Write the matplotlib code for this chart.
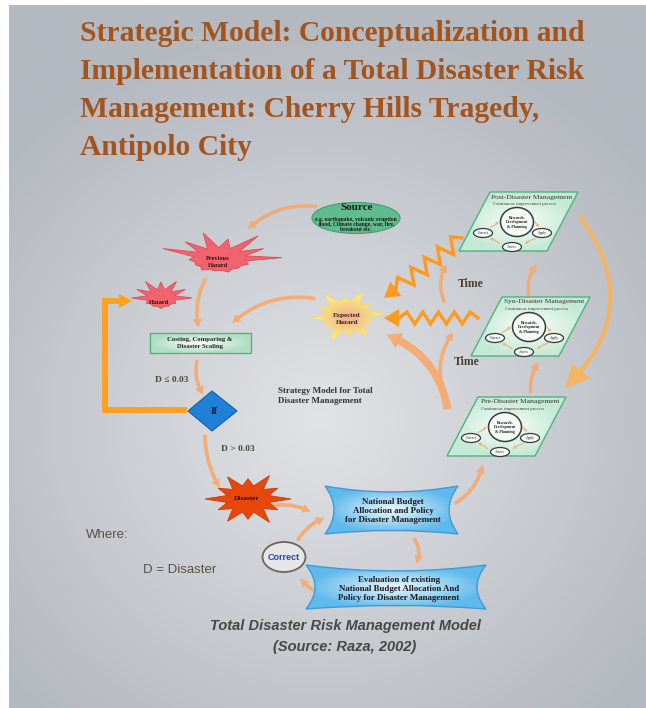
import numpy as np
import matplotlib.pyplot as plt
from matplotlib.patches import Polygon, Ellipse, FancyArrowPatch, PathPatch
from matplotlib.path import Path

# ---- text content of the diagram ----
title_lines = ["Strategic Model: Conceptualization and",
               "Implementation of a Total Disaster Risk",
               "Management: Cherry Hills Tragedy,",
               "Antipolo City"]
source_title = "Source"
source_note = "e.g. earthquake, volcanic eruption\nflood, Climate change, war, fire,\nbreakout etc."
hazard_labels = ["Previous\nHazard", "Hazard", "Expected\nHazard", "Disaster"]
costing_label = "Costing, Comparing &\nDisaster Scaling"
decision_label = "If"
branch_labels = ["D \u2264 0.03", "D > 0.03"]
strategy_label = "Strategy Model for Total\nDisaster Management"
time_label = "Time"
phase_titles = ["Post-Disaster Management", "Syn-Disaster Management", "Pre-Disaster Management"]
phase_subtitle = "Continuous improvement process"
cycle_steps = ["Research,\nDevelopment\n& Planning", "Correct", "Apply", "Assess"]
budget_label = "National Budget\nAllocation and Policy\nfor Disaster Management"
evaluation_label = "Evaluation of existing\nNational Budget Allocation And\nPolicy for Disaster Management"
correct_label = "Correct"
legend_lines = ["Where:", "D = Disaster"]
caption_lines = ["Total Disaster Risk Management Model", "(Source: Raza, 2002)"]

SERIF = "Liberation Serif"
SANS = "Liberation Sans"
ARROW = "#F5AA70"

fig = plt.figure(figsize=(6.46, 7.08), dpi=100)
ax = fig.add_axes([0, 0, 1, 1])
ax.set_xlim(0, 646)
ax.set_ylim(708, 0)
ax.axis("off")

# background panel with soft radial light
gx, gy = np.meshgrid(np.linspace(9, 646, 200), np.linspace(5, 708, 220))
r = np.clip(np.sqrt(((gx - 320) / 420) ** 2 + ((gy - 420) / 400) ** 2), 0, 1)[..., None]
bg = np.array([225, 227, 230]) / 255 * (1 - r) + np.array([180, 184, 191]) / 255 * r
ax.imshow(bg, extent=[9, 646, 708, 5], aspect="auto", zorder=0, interpolation="bilinear")


def grad_patch(verts, c_in, c_out, edge, lw, z, codes=None):
    path = Path(verts, codes)
    xs, ys = np.array(verts)[:, 0], np.array(verts)[:, 1]
    x0, x1, y0, y1 = xs.min(), xs.max(), ys.min(), ys.max()
    mx, my = np.meshgrid(np.linspace(-1, 1, 60), np.linspace(-1, 1, 60))
    t = np.clip(np.sqrt(mx ** 2 + my ** 2), 0, 1)[..., None]
    img = np.array(c_in) / 255 * (1 - t) + np.array(c_out) / 255 * t
    im = ax.imshow(img, extent=[x0, x1, y1, y0], aspect="auto", zorder=z, interpolation="bilinear")
    p = PathPatch(path, facecolor="none", edgecolor=edge, lw=lw, zorder=z + 0.1)
    ax.add_patch(p)
    im.set_clip_path(p)


def star(cx, cy, rx, ry, spikes, inner, rot, fc, ec, z=3):
    n = len(spikes)
    pts = []
    for i, s in enumerate(spikes):
        a = rot + 2 * np.pi * i / n
        pts.append((cx + rx * s * np.cos(a), cy - ry * s * np.sin(a)))
        a2 = a + np.pi / n
        pts.append((cx + rx * inner * np.cos(a2), cy - ry * inner * np.sin(a2)))
    ax.add_patch(Polygon(pts, closed=True, fc=fc, ec=ec, lw=0.6, zorder=z))


def arrow(p0, p1, rad, tail=2.6, hw=6.5, hl=6, color=ARROW, z=2, alpha=0.95):
    a = FancyArrowPatch(p0, p1, connectionstyle="arc3,rad=%s" % rad,
                        arrowstyle="simple,head_width=%s,head_length=%s,tail_width=%s" % (hw, hl, tail),
                        color=color, lw=0, alpha=alpha, zorder=z)
    ax.add_patch(a)


def zigzag(p0, p1, n, amp, head, color="#FF9A1F", lw=2.4):
    p0, p1 = np.array(p0, float), np.array(p1, float)
    d = p1 - p0
    u = d / np.hypot(*d)
    nrm = np.array([-u[1], u[0]])
    end = p1 - u * head
    pts = []
    for k, t in enumerate(np.linspace(0, 1, 2 * n + 1)):
        off = 0 if k in (0, 2 * n) else (1 if k % 2 else -1)
        pts.append(p0 + (end - p0) * t + nrm * amp * off)
    pts = np.array(pts)
    ax.plot(pts[:, 0], pts[:, 1], color=color, lw=lw, solid_joinstyle="miter", zorder=4)
    ax.add_patch(Polygon([p1, end + nrm * head * 0.6, end - nrm * head * 0.6],
                         closed=True, fc=color, ec="none", zorder=4))


# ---- title ----
for i, line in enumerate(title_lines):
    ax.text(80, 41 + 38 * i, line, fontsize=21.3, family=SERIF, weight="bold",
            color="#A3541C", ha="left", va="baseline")

# ---- source ----
ax.add_patch(Ellipse((356, 218), 88, 31, fc="#5FBC8C", ec="#3FA070", lw=0.8, zorder=3))
ax.text(357, 208, source_title, fontsize=8, family=SERIF, weight="bold", color="#1a1a1a",
        ha="center", va="center", zorder=4)
ax.text(356, 224.5, source_note, fontsize=4.1, family=SERIF, weight="bold", color="#1a1a1a",
        ha="center", va="center", linespacing=1.1, zorder=4)

# ---- hazards ----
prev_sp = [1.0, 0.8, 1.05, 0.75, 1.0, 0.85, 1.0, 0.5, 0.45, 0.5, 0.45, 0.5, 0.45, 0.5]
star(220, 259, 62, 27, prev_sp, 0.42, 0.05, "#F0636F", "#E04B58")
ax.text(218, 262, hazard_labels[0], fontsize=4.6, family=SERIF, weight="bold", color="#3a1010",
        ha="center", va="center", linespacing=1.3, zorder=4)
haz_sp = [1.0, 0.9, 1.0, 0.85, 1.0, 0.9, 0.95, 0.55, 0.5, 0.55, 0.5, 0.55]
star(161, 298, 31, 19, haz_sp, 0.45, 0.0, "#F0636F", "#E04B58")
ax.text(159, 302, hazard_labels[1], fontsize=4.6, family=SERIF, weight="bold", color="#3a1010",
        ha="center", va="center", zorder=4)
exp_sp = [1.0, 0.75, 0.95, 0.7, 1.0, 0.8, 0.95, 0.7, 1.0, 0.75, 0.95, 0.7]
n = len(exp_sp)
pts = []
for i, s in enumerate(exp_sp):
    a = 0.1 + 2 * np.pi * i / n
    pts.append((347 + 38 * s * np.cos(a), 316 - 27 * s * np.sin(a)))
    a2 = a + np.pi / n
    pts.append((347 + 38 * 0.55 * np.cos(a2), 316 - 27 * 0.55 * np.sin(a2)))
pts.append(pts[0])
grad_patch(pts, (236, 175, 150), (255, 240, 120), "#F2DC70", 0.6, 3)
ax.text(347, 319, hazard_labels[2], fontsize=5, family=SERIF, weight="bold", color="#3a2020",
        ha="center", va="center", linespacing=1.3, zorder=4)
dis_sp = [1.0, 0.8, 1.0, 0.75, 0.95, 0.8, 1.0, 0.8, 0.95, 0.75, 1.0, 0.8]
star(248, 499, 43, 27, dis_sp, 0.5, 0.0, "#E8470C", "#D03A05")
ax.text(247, 499, hazard_labels[3], fontsize=5.3, family=SERIF, weight="bold", color="#2a0a00",
        ha="center", va="center", zorder=4)

# ---- costing box ----
grad_patch([(150, 333), (251, 333), (251, 353), (150, 353), (150, 333)],
           (250, 252, 250), (175, 222, 195), "#49B07A", 0.9, 3)
ax.text(200, 343, costing_label, fontsize=4.8, family=SERIF, weight="bold", color="#222",
        ha="center", va="center", linespacing=1.35, zorder=4)

# ---- decision ----
ax.add_patch(Polygon([(188, 411), (212, 391), (237, 411), (212, 431)], closed=True,
                     fc="#1F80D8", ec="#155FA8", lw=0.8, zorder=3))
ax.text(214, 411, decision_label, fontsize=7, family=SERIF, weight="bold", color="#0a1a30",
        ha="center", va="center", zorder=4)
ax.text(172, 380, branch_labels[0], fontsize=6.8, family=SERIF, weight="bold", color="#4d463a",
        ha="center", va="center", zorder=4)
ax.text(238, 449, branch_labels[1], fontsize=6.8, family=SERIF, weight="bold", color="#4d463a",
        ha="center", va="center", zorder=4)

# orange feedback loop
ax.plot([187, 105, 105, 120], [410, 410, 301, 301], color="#FFA01E", lw=4.2,
        solid_joinstyle="miter", solid_capstyle="butt", zorder=2)
ax.add_patch(Polygon([(132, 301), (119, 294), (119, 308)], closed=True, fc="#FFA01E", ec="none", zorder=2))

ax.text(278, 396, strategy_label, fontsize=6.5, family=SERIF, weight="bold", color="#333",
        ha="left", va="center", linespacing=1.35, zorder=4)

# ---- phase panels ----
def phase_panel(x, y, title):
    w, shear, h = 88, 31, 59
    verts = [(x, y), (x + w, y), (x + w - shear, y + h), (x - shear, y + h), (x, y)]
    grad_patch(verts, (250, 253, 251), (196, 233, 212), "#4DB383", 1.0, 3)
    ax.text(x + 42, y + 5, title, fontsize=5.4, family=SERIF, color="#333", ha="center",
            va="center", zorder=4)
    ax.text(x + 35, y + 12, phase_subtitle, fontsize=3.4, family=SERIF, color="#444",
            ha="center", va="center", zorder=4)
    ax.add_patch(Ellipse((x + 27, y + 30), 33, 29, fc="#F4FAF6", ec="#3a3a3a", lw=1.1, zorder=4))
    ax.text(x + 27, y + 30, cycle_steps[0], fontsize=2.9, family=SERIF, weight="bold", color="#222",
            ha="center", va="center", linespacing=1.2, zorder=5)
    for (dx, dy), lab in zip([(-7, 41), (52, 41), (22, 55)], cycle_steps[1:]):
        ax.add_patch(Ellipse((x + dx, y + dy), 19, 9, fc="#F4FAF6", ec="#3a3a3a", lw=0.9, zorder=4))
        ax.text(x + dx, y + dy, lab, fontsize=2.6, family=SERIF, color="#222",
                ha="center", va="center", zorder=5)
    kw = dict(tail=0.8, hw=2.5, hl=2.5, z=4)
    arrow((x - 3, y + 36), (x + 10, y + 27), 0.25, **kw)
    arrow((x + 44, y + 27), (x + 52, y + 36), 0.25, **kw)
    arrow((x + 49, y + 46), (x + 33, y + 54), 0.2, **kw)
    arrow((x + 12, y + 54), (x - 3, y + 46), 0.2, **kw)


for (px, py), t in zip([(490, 192), (502, 297), (478, 397)], phase_titles):
    phase_panel(px, py, t)

ax.text(471, 284, time_label, fontsize=8.5, family=SERIF, weight="bold", color="#4a4030",
        ha="center", va="center", zorder=4)
ax.text(467, 362, time_label, fontsize=8.5, family=SERIF, weight="bold", color="#4a4030",
        ha="center", va="center", zorder=4)

# zigzag arrows
zigzag((462, 238), (384, 298), 5, 8, 15)
zigzag((478, 318), (384, 318), 5, 6, 15)

# ---- budget banners ----
def banner(x0, y0, x1, y1, sag, pinch):
    mx, my = (x0 + x1) / 2, (y0 + y1) / 2
    verts = [(x0, y0), (mx, y0 + sag), (x1, y0), (x1 - pinch, my), (x1, y1),
             (mx, y1 - sag * 0.6), (x0, y1), (x0 + pinch, my), (x0, y0)]
    codes = [Path.MOVETO, Path.CURVE3, Path.CURVE3, Path.CURVE3, Path.CURVE3,
             Path.CURVE3, Path.CURVE3, Path.CURVE3, Path.CURVE3]
    grad_patch(verts, (236, 247, 253), (95, 185, 236), "#3C9BD8", 1.0, 3, codes)


banner(325, 486, 458, 534, 12, 18)
ax.text(393, 511, budget_label, fontsize=6.4, family=SERIF, weight="bold", color="#1a1a1a",
        ha="center", va="center", linespacing=1.2, zorder=4)
banner(306, 565, 486, 609, 12, 18)
ax.text(399, 589, evaluation_label, fontsize=6.4, family=SERIF, weight="bold", color="#1a1a1a",
        ha="center", va="center", linespacing=1.2, zorder=4)

ax.add_patch(Ellipse((284, 557), 43, 30, fc="#E4E6EA", ec="#6E6458", lw=1.3, zorder=3))
ax.text(284, 557, correct_label, fontsize=6.5, family=SANS, weight="bold", color="#2846A8",
        ha="center", va="center", zorder=4)

# ---- flow arrows ----
arrow((320, 207), (246, 231), 0.25)
arrow((207, 276), (199, 330), 0.2)
arrow((318, 299), (230, 325), 0.25)
arrow((198, 357), (205, 397), 0.25)
arrow((205, 432), (221, 490), 0.15)
arrow((266, 507), (313, 513), -0.2)
arrow((296, 543), (327, 517), -0.2)
arrow((452, 505), (483, 462), 0.25)
arrow((412, 536), (415, 566), -0.35)
arrow((327, 594), (299, 576), -0.25)
arrow((448, 412), (384, 334), 0.3, tail=5.5, hw=12, hl=10)
arrow((531, 396), (540, 360), -0.2)
arrow((530, 303), (538, 262), -0.25)
arrow((447, 400), (455, 330), -0.3)
arrow((446, 305), (448, 262), -0.3)
arrow((578, 214), (563, 390), -0.45, tail=3, hw=17, hl=17, color="#F8B25E")

# ---- legend and caption ----
ax.text(86, 535, legend_lines[0], fontsize=9.5, family=SANS, color="#5a5040", ha="left", va="center")
ax.text(143, 570, legend_lines[1], fontsize=9.5, family=SANS, color="#5a5040", ha="left", va="center")
ax.text(345, 626, caption_lines[0], fontsize=10.5, family=SANS, weight="bold", style="italic",
        color="#474747", ha="center", va="center")
ax.text(345, 647, caption_lines[1], fontsize=10.5, family=SANS, weight="bold", style="italic",
        color="#474747", ha="center", va="center")

ax.set_xlim(0, 646)
ax.set_ylim(708, 0)
fig.savefig("out.png", dpi=100)
